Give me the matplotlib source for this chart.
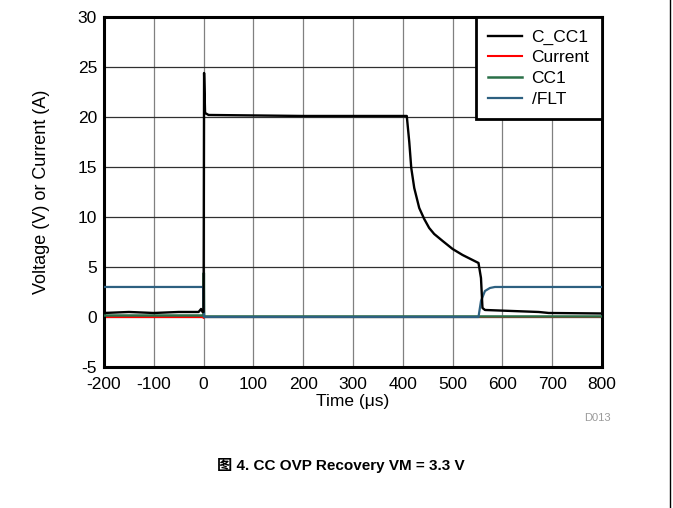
"""CC OVP recovery waveform (VM = 3.3 V), redrawn from scope capture."""

import matplotlib

matplotlib.use("Agg")
import matplotlib.pyplot as plt  # noqa: E402

plt.rcParams["font.family"] = ["Liberation Sans", "DejaVu Sans"]
plt.rcParams["axes.unicode_minus"] = False

# C_CC1 trace (V), time in us
cc1c_t = [-200, -150, -100, -50, -10, -5, -2, 0, 1, 3, 10, 200, 408,
          413, 417, 423, 433, 443, 453, 463, 480, 500, 520, 540, 552,
          557, 560, 565, 673, 693, 800]
cc1c_v = [0.4, 0.5, 0.4, 0.5, 0.5, 0.8, 0.5, 0.5, 24.4, 20.4, 20.2, 20.1, 20.1,
          17.5, 14.9, 12.9, 10.9, 9.8, 8.9, 8.3, 7.6, 6.8, 6.2, 5.7, 5.4,
          3.9, 0.9, 0.7, 0.5, 0.4, 0.35]

# Current trace (A)
cur_t = [-200, -1, 0, 1, 800]
cur_v = [0.0, 0.0, -0.1, 0.0, 0.0]

# CC1 trace (V)
cc1_t = [-200, -1, 0, 0.5, 1, 800]
cc1_v = [0.15, 0.15, 0.15, 4.4, 0.05, 0.05]

# /FLT trace (V)
flt_t = [-200, -1, 1, 552, 557, 565, 575, 585, 800]
flt_v = [3.0, 3.0, 0.0, 0.0, 1.6, 2.6, 2.9, 3.0, 3.0]

x_ticks = list(range(-200, 801, 100))
y_ticks = list(range(-5, 31, 5))

fig = plt.figure(figsize=(6.73, 5.08), dpi=100)
ax = fig.add_axes([0.1545, 0.2776, 0.7400, 0.6890])

ax.plot(cur_t, cur_v, color="#ff0000", lw=1.5, label="Current", zorder=2)
ax.plot(cc1_t, cc1_v, color="#2a7048", lw=1.8, label="CC1", zorder=3)
ax.plot(flt_t, flt_v, color="#2d6080", lw=1.6, label="/FLT", zorder=4)
ax.plot(cc1c_t, cc1c_v, color="black", lw=1.7, label="C_CC1", zorder=5)

ax.set_xlim(-200, 800)
ax.set_ylim(-5, 30)
ax.set_xticks(x_ticks)
ax.set_yticks(y_ticks)
ax.tick_params(length=0, labelsize=12.5)
ax.tick_params(axis="x", pad=7)
ax.tick_params(axis="y", pad=5)
ax.xaxis.grid(True, color="#808080", lw=0.9)
ax.yaxis.grid(True, color="#303030", lw=0.9)
ax.set_axisbelow(True)
for s in ax.spines.values():
    s.set_linewidth(2.2)

ax.set_xlabel("Time (\u03bcs)", fontsize=12.5, labelpad=2)
ax.set_ylabel("Voltage (V) or Current (A)", fontsize=13, labelpad=20)

h, lab = ax.get_legend_handles_labels()
order = [lab.index(n) for n in ("C_CC1", "Current", "CC1", "/FLT")]
leg = ax.legend([h[i] for i in order], [lab[i] for i in order],
                loc="upper right", borderaxespad=0, fancybox=False,
                framealpha=1, edgecolor="black", fontsize=12.5,
                handlelength=1.95, handletextpad=0.55, labelspacing=0.32,
                borderpad=0.72)
leg.get_frame().set_linewidth(2)
leg.set_zorder(10)

fig.text(0.887, 0.177, "D013", color="#9a9a9a", fontsize=8, ha="center", va="center")
fig.text(0.507, 0.083, "图 4. CC OVP Recovery VM = 3.3 V", fontsize=11,
         fontweight="bold", ha="center", va="center",
         family=["Liberation Sans", "Noto Sans CJK SC"])
fig.add_artist(plt.Line2D([0.9955, 0.9955], [0, 1], color="black", lw=1,
                          transform=fig.transFigure))

fig.savefig("out.png", dpi=100)
